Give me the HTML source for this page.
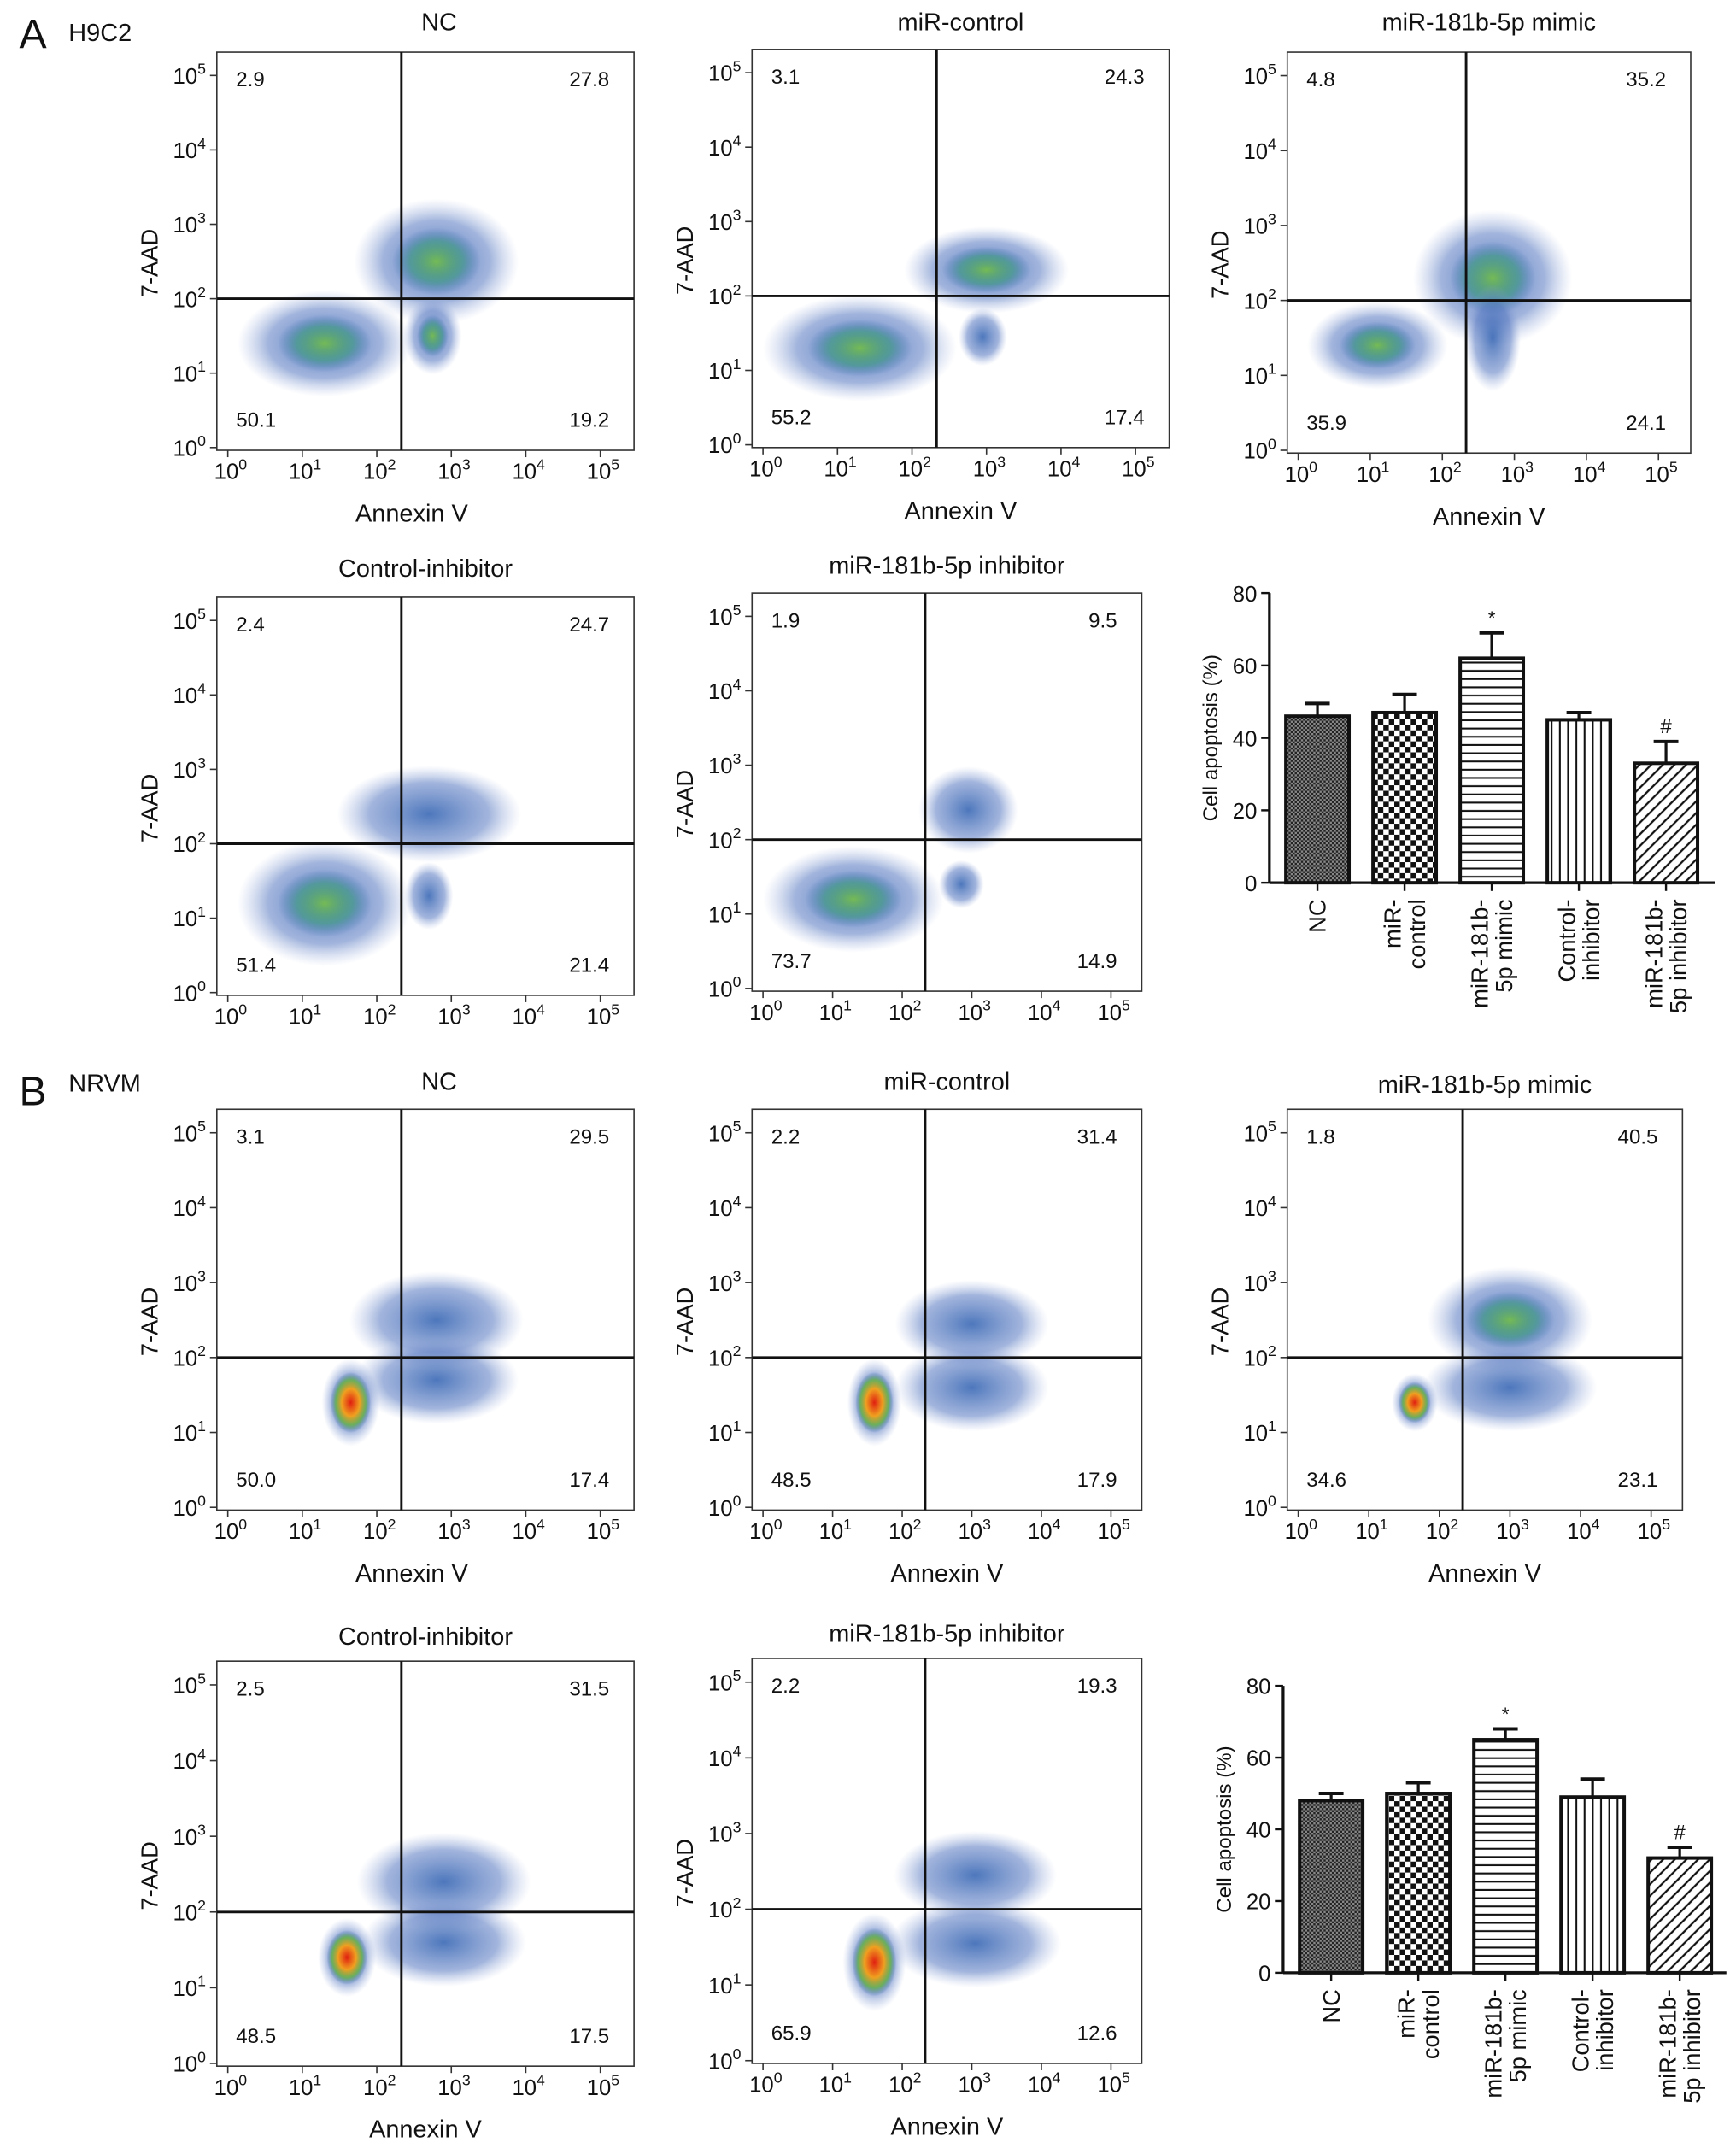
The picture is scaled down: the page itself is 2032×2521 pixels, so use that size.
<!DOCTYPE html>
<html><head><meta charset="utf-8"><style>
html,body{margin:0;padding:0;background:#fff}
svg{display:block;font-family:"Liberation Sans",Arial,sans-serif}
</style></head><body>
<svg id="fig" width="2032" height="2521" viewBox="0 0 1265 1569" preserveAspectRatio="none" xmlns="http://www.w3.org/2000/svg">
<defs>
<pattern id="pNC" width="3" height="3" patternUnits="userSpaceOnUse"><rect width="3" height="3" fill="#888"/><rect width="1.5" height="1.5" fill="#222"/><rect x="1.5" y="1.5" width="1.5" height="1.5" fill="#222"/></pattern>
<pattern id="pChk" width="8" height="8" patternUnits="userSpaceOnUse"><rect width="8" height="8" fill="#fff"/><rect width="4" height="4" fill="#111"/><rect x="4" y="4" width="4" height="4" fill="#111"/></pattern>
<pattern id="pH" width="6" height="6" patternUnits="userSpaceOnUse"><rect width="6" height="6" fill="#fff"/><rect y="2" width="6" height="1.3" fill="#111"/></pattern>
<pattern id="pV" width="6" height="6" patternUnits="userSpaceOnUse"><rect width="6" height="6" fill="#fff"/><rect x="2" width="1.3" height="6" fill="#111"/></pattern>
<pattern id="pD" width="6" height="6" patternUnits="userSpaceOnUse" patternTransform="rotate(45)"><rect width="6" height="6" fill="#fff"/><rect x="2" width="1.4" height="6" fill="#111"/></pattern>
<radialGradient id="gBlue"><stop offset="0" stop-color="#2d5fb0" stop-opacity="0.85"/><stop offset="0.65" stop-color="#5577c0" stop-opacity="0.55"/><stop offset="1" stop-color="#8fa5d8" stop-opacity="0"/></radialGradient>
<radialGradient id="gGreen"><stop offset="0" stop-color="#7ac24a" stop-opacity="0.9"/><stop offset="0.6" stop-color="#3a9a7a" stop-opacity="0.6"/><stop offset="1" stop-color="#2d5fb0" stop-opacity="0"/></radialGradient>
<radialGradient id="gHot"><stop offset="0" stop-color="#e02010"/><stop offset="0.45" stop-color="#f0a020"/><stop offset="0.75" stop-color="#60b040" stop-opacity="0.8"/><stop offset="1" stop-color="#2d5fb0" stop-opacity="0"/></radialGradient>
</defs>
<g id="root"></g>
</svg>
<script>
const flowTitles = ["NC","miR-control","miR-181b-5p mimic","Control-inhibitor","miR-181b-5p inhibitor","NC","miR-control","miR-181b-5p mimic","Control-inhibitor","miR-181b-5p inhibitor"];
const flowQuad = [
 ["2.9","27.8","50.1","19.2"],["3.1","24.3","55.2","17.4"],["4.8","35.2","35.9","24.1"],
 ["2.4","24.7","51.4","21.4"],["1.9","9.5","73.7","14.9"],
 ["3.1","29.5","50.0","17.4"],["2.2","31.4","48.5","17.9"],["1.8","40.5","34.6","23.1"],
 ["2.5","31.5","48.5","17.5"],["2.2","19.3","65.9","12.6"]];
// clusters in log-decade units: [cx, cy, rx, ry, kind(0 blue,1 green,2 hot)]
const flowClusters = [
 [[1.3,1.4,0.9,0.55,1],[2.8,2.5,0.85,0.65,1],[2.75,1.5,0.3,0.4,1]],
 [[1.3,1.3,1.0,0.55,1],[3.0,2.35,0.85,0.45,1],[2.95,1.45,0.25,0.3,0]],
 [[1.1,1.4,0.75,0.45,1],[2.7,2.3,0.85,0.7,1],[2.7,1.5,0.3,0.55,0]],
 [[1.3,1.2,0.9,0.65,1],[2.7,2.4,0.95,0.5,0],[2.7,1.3,0.25,0.35,0]],
 [[1.3,1.2,1.0,0.55,1],[2.95,2.4,0.55,0.45,0],[2.85,1.4,0.25,0.25,0]],
 [[1.65,1.4,0.3,0.45,2],[2.8,2.5,0.9,0.5,0],[2.8,1.7,0.85,0.45,0]],
 [[1.6,1.4,0.3,0.45,2],[3.0,2.45,0.85,0.45,0],[3.0,1.6,0.85,0.45,0]],
 [[1.65,1.4,0.25,0.3,2],[3.0,2.5,0.9,0.55,1],[3.0,1.6,0.95,0.45,0]],
 [[1.6,1.4,0.3,0.4,2],[2.9,2.4,0.9,0.5,0],[2.9,1.6,0.85,0.45,0]],
 [[1.6,1.3,0.35,0.5,2],[3.05,2.45,0.9,0.45,0],[3.05,1.55,0.95,0.45,0]]];
const flowBoxes = [[158,38,304,290],[548,36,304,290],[938,38,294,292],[158,435,304,290],[548,432,284,290],
 [158,808,304,292],[548,808,284,292],[938,808,288,292],[158,1210,304,295],[548,1208,284,295]];
const flowTitleY=[16,16,16,414,412,788,788,790,1192,1190];
const flowShowXLbl=[true,true,true,false,false,true,true,true,true,true];
const barCats=[["NC"],["miR-","control"],["miR-181b-","5p mimic"],["Control-","inhibitor"],["miR-181b-","5p inhibitor"]];
const barA=[46,47,62,45,33], errA=[3.5,5,7,2,6];
const barB=[48,50,65,49,32], errB=[2,3,3,5,3];
const barTicks=[0,20,40,60,80];
const barFills=["url(#pNC)","url(#pChk)","url(#pH)","url(#pV)","url(#pD)"];
const barMarks=["","","*","","#"];

const NS="http://www.w3.org/2000/svg";
const root=document.getElementById('root');
function el(t,a,p){const e=document.createElementNS(NS,t);for(const k in a)e.setAttribute(k,a[k]);(p||root).appendChild(e);return e;}
function txt(x,y,s,a,p){const e=el('text',Object.assign({x:x,y:y,'font-size':16,fill:'#111'},a||{}),p);e.textContent=s;return e;}
function pow(x,y,n,p,anchor){const t=el('text',{x:x,y:y,'font-size':16,fill:'#111','text-anchor':anchor||'middle'},p);
 const a=document.createElementNS(NS,'tspan');a.textContent='10';t.appendChild(a);
 const b=document.createElementNS(NS,'tspan');b.setAttribute('font-size','11');b.setAttribute('dy','-7');b.textContent=n;t.appendChild(b);return t;}

flowBoxes.forEach((bx,i)=>{
 const [x0,y0,w,h]=bx;
 const g=el('g',{});
 
 
 const dx=w/5.6, dy=h/5.35;
 const px=v=>x0+8+v*dx, py=v=>y0+h-2-v*dy;
 flowClusters[i].forEach(c=>{
  const grad=c[4]==2?'url(#gHot)':(c[4]==1?'url(#gGreen)':'url(#gBlue)');
  const o=el('ellipse',{cx:px(c[0]),cy:py(c[1]),rx:c[2]*dx*1.3,ry:c[3]*dy*1.3,fill:'url(#gBlue)'},g);
  
  if(c[4]>0){const k=el('ellipse',{cx:px(c[0]),cy:py(c[1]),rx:c[2]*dx*(c[4]==2?0.9:0.7),ry:c[3]*dy*(c[4]==2?0.9:0.7),fill:grad},g);
   }
 });
 const r=el('rect',{x:x0,y:y0,width:w,height:h,fill:'none',stroke:'#333','stroke-width':1},g);
 
 const vl=el('line',{x1:px(2.33),x2:px(2.33),y1:y0,y2:y0+h,stroke:'#111','stroke-width':1.8},g);
 
 const hl=el('line',{x1:x0,x2:x0+w,y1:py(2),y2:py(2),stroke:'#111','stroke-width':1.8},g);
 
 for(let d=0;d<=5;d++){
  el('line',{x1:px(d),x2:px(d),y1:y0+h,y2:y0+h+5,stroke:'#333'},g);
  el('line',{x1:x0-5,x2:x0,y1:py(d),y2:py(d),stroke:'#333'},g);
  const xl=pow(px(d)+2,y0+h+21,String(d),g);
  const yl=pow(x0-8,py(d)+6,String(d),g,'end');
 }
 const q=flowQuad[i];
 const ql=[[x0+14,y0+25,'start',q[0]],[x0+w-18,y0+25,'end',q[1]],[x0+14,y0+h-17,'start',q[2]],[x0+w-18,y0+h-17,'end',q[3]]];
 ql.forEach((a,j)=>{const t=txt(a[0],a[1],a[3],{'text-anchor':a[2],'font-size':15},g);
  });
 const tt=txt(x0+w/2+(i%5==0?10:0),flowTitleY[i]+6,flowTitles[i],{'text-anchor':'middle','font-size':18},g);
 
 if(flowShowXLbl[i]){const xa=txt(x0+w/2+(i%5==0?-10:0),y0+h+52,'Annexin V',{'text-anchor':'middle','font-size':18},g);
  }
 const ya=txt(0,0,'7-AAD',{'text-anchor':'middle','font-size':17,transform:`translate(${x0-43},${y0+h*0.53}) rotate(-90)`},g);
 
});

function barChart(ax,y0,y80,x1,vals,errs,name){
 const g=el('g',{});
 
 const sy=v=>y0-(v/80)*(y0-y80);
 const bw=46, step=63.5;
 el('line',{x1:ax,x2:ax,y1:y80,y2:y0,stroke:'#111','stroke-width':2},g);
 el('line',{x1:ax,x2:x1,y1:y0,y2:y0,stroke:'#111','stroke-width':2},g);
 barTicks.forEach(t=>{el('line',{x1:ax-6,x2:ax,y1:sy(t),y2:sy(t),stroke:'#111','stroke-width':1.5},g);
  const l=txt(ax-9,sy(t)+6,String(t),{'text-anchor':'end','font-size':16},g);});
 const yt=txt(0,0,'Cell apoptosis (%)',{'text-anchor':'middle','font-size':15,transform:`translate(${ax-38},${(y0+y80)/2}) rotate(-90)`},g);
 
 vals.forEach((v,i)=>{
  const cx=ax+12+bw/2+step*i;
  const e=errs[i];
  el('line',{x1:cx,x2:cx,y1:sy(v),y2:sy(v+e),stroke:'#111','stroke-width':2},g);
  el('line',{x1:cx-9,x2:cx+9,y1:sy(v+e),y2:sy(v+e),stroke:'#111','stroke-width':2.5},g);
  const b=el('rect',{x:cx-bw/2,y:sy(v),width:bw,height:y0-sy(v),fill:barFills[i],stroke:'#111','stroke-width':2.5},g);
  
  
  el('line',{x1:cx,x2:cx,y1:y0,y2:y0+6,stroke:'#111','stroke-width':1.5},g);
  if(barMarks[i]){const m=txt(cx,sy(v+e)-6,barMarks[i],{'text-anchor':'middle','font-size':barMarks[i]=='*'?14:15},g);
   }
  const lines=barCats[i];
  lines.forEach((s,j)=>{const off=(j-(lines.length-1)/2)*18;
   const l=txt(0,0,s,{'text-anchor':'end','font-size':17,transform:`translate(${cx+off+6},${y0+12}) rotate(-90)`},g);
   });
 });
}
barChart(925,643,432,1250,barA,errA,'bar-chart-h9c2');
barChart(935,1437,1228,1258,barB,errB,'bar-chart-nrvm');

[[14,35,'A',30],[50,30,'H9C2',18],[14,805,'B',30],[50,795,'NRVM',18]].forEach(a=>{
 const t=txt(a[0],a[1],a[2],{'font-size':a[3]});
 });
</script>
</body></html>
